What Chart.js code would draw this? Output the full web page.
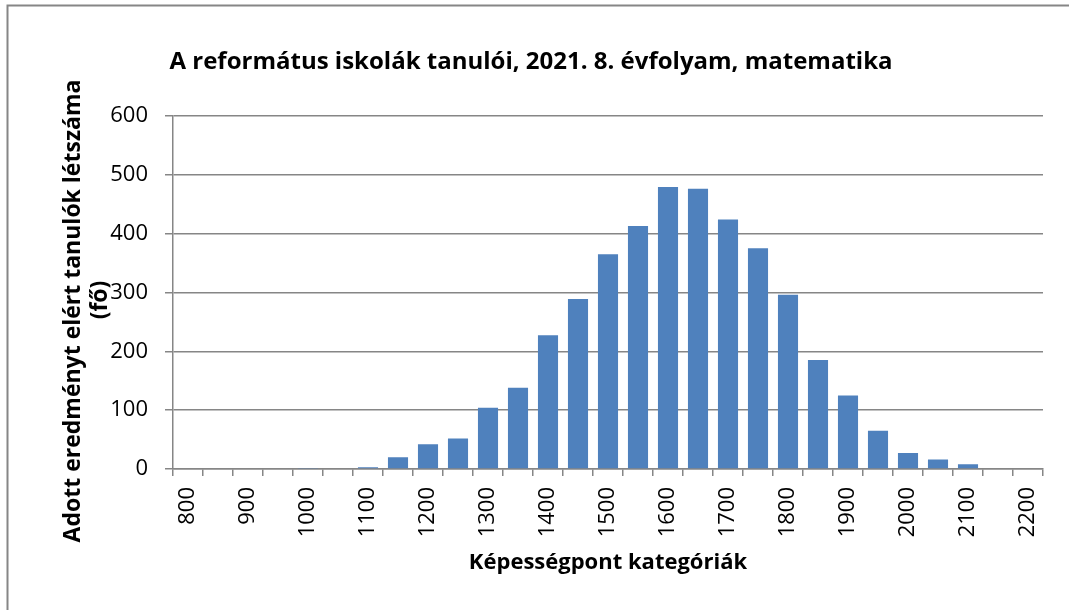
<!DOCTYPE html>
<html>
<head>
<meta charset="utf-8">
<script src="https://cdn.jsdelivr.net/npm/chart.js@4/dist/chart.umd.min.js"></script>
<style>
  body { margin: 0; background: #fff; }
  #wrap { width: 1069px; height: 610px; }
</style>
</head>
<body>
<div id="wrap"><canvas id="myChart" width="1069" height="610"></canvas></div>
<script>
// képességpont kategóriák (50-es lépés), felirat csak minden 100-nál
const categories = [800, 850, 900, 950, 1000, 1050, 1100, 1150, 1200, 1250, 1300, 1350, 1400, 1450,
  1500, 1550, 1600, 1650, 1700, 1750, 1800, 1850, 1900, 1950, 2000, 2050, 2100, 2150, 2200];
const students = [0, 0, 0, 0, 1, 0, 3, 20, 42, 52, 104, 138, 227, 289,
  365, 413, 479, 476, 424, 375, 296, 185, 125, 65, 27, 16, 8, 0, 0];
const yTicks = [0, 100, 200, 300, 400, 500, 600];

const chartTitle = 'A református iskolák tanulói, 2021. 8. évfolyam, matematika';
const xTitle = 'Képességpont kategóriák';
const yTitle = ['Adott eredményt elért tanulók létszáma', '(fő)'];

const axisGray = '#868686';
const titleFont = { family: '"Open Sans", sans-serif', size: 24, weight: 'bold', lineHeight: 1.2 };
const axisTitleFont = { family: '"Open Sans", sans-serif', size: 22, weight: 'bold', lineHeight: 1.2 };
const tickFont = { family: '"Open Sans", sans-serif', size: 22 };

// fehér háttér + a kép keretének bal és felső vonala
const framePlugin = {
  id: 'frame',
  beforeDraw(chart) {
    const ctx = chart.ctx;
    ctx.save();
    ctx.fillStyle = '#fff';
    ctx.fillRect(0, 0, chart.width, chart.height);
    ctx.strokeStyle = axisGray;
    ctx.lineWidth = 2;
    ctx.beginPath();
    ctx.moveTo(7.5, chart.height);
    ctx.lineTo(7.5, 5.5);
    ctx.lineTo(chart.width, 5.5);
    ctx.stroke();
    ctx.restore();
  }
};

// függőleges tengelycím két sorban, a tengelyfeliratokra rálóg (mint az eredetin)
const yTitlePlugin = {
  id: 'yTitle',
  afterDraw(chart) {
    const ctx = chart.ctx;
    ctx.save();
    ctx.font = 'bold 23px "Open Sans", sans-serif';
    ctx.fillStyle = '#000';
    ctx.textAlign = 'center';
    ctx.textBaseline = 'middle';
    ctx.translate(73, 311);
    ctx.rotate(-Math.PI / 2);
    ctx.fillText(yTitle[0], 0, 0);
    ctx.fillText(yTitle[1], 11, 27);
    ctx.restore();
  }
};

new Chart('myChart', {
  type: 'bar',
  data: {
    labels: categories,
    datasets: [{
      data: students,
      backgroundColor: '#4F81BD',
      barPercentage: 0.67,
      categoryPercentage: 1.0
    }]
  },
  plugins: [framePlugin, yTitlePlugin],
  options: {
    responsive: false,
    animation: false,
    layout: { padding: { left: 19, right: 26, top: 0, bottom: 0 } },
    plugins: {
      legend: { display: false },
      tooltip: { enabled: false },
      title: {
        display: true,
        text: chartTitle,
        color: '#000',
        font: titleFont,
        padding: { top: 48, bottom: 39 }
      }
    },
    scales: {
      x: {
        offset: true,
        afterFit: (scale) => { scale.height = 141; },
        grid: {
          offset: true,
          drawOnChartArea: false,
          color: axisGray,
          lineWidth: 1.5,
          tickLength: 7
        },
        border: { color: axisGray, width: 1.5 },
        ticks: {
          autoSkip: false,
          minRotation: 90,
          maxRotation: 90,
          padding: 11,
          color: '#000',
          font: tickFont,
          callback: function (val, i) {
            return i % 2 === 0 ? String(categories[i]) : '';
          }
        },
        title: {
          display: true,
          text: xTitle,
          color: '#000',
          font: axisTitleFont,
          padding: { top: 0, bottom: 34 }
        }
      },
      y: {
        min: yTicks[0],
        max: yTicks[yTicks.length - 1],
        afterFit: (scale) => { scale.width = 154; },
        afterBuildTicks: (scale) => { scale.ticks = yTicks.map(v => ({ value: v })); },
        grid: {
          color: axisGray,
          lineWidth: 1.5,
          tickLength: 8
        },
        border: { color: axisGray, width: 1.5 },
        ticks: {
          padding: 17,
          color: '#000',
          font: tickFont
        }
      }
    }
  }
});
</script>
</body>
</html>
